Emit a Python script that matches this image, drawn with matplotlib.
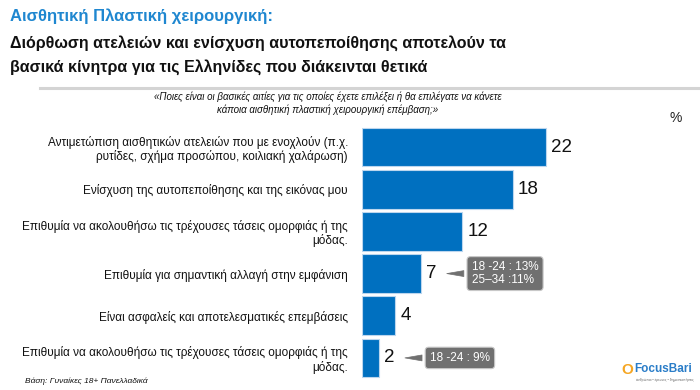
"""
Aesthetic plastic surgery - reasons bar chart (FocusBari style slide)
"""

import matplotlib
matplotlib.use('Agg')
import matplotlib.pyplot as plt
from matplotlib.lines import Line2D

plt.rcParams['font.family'] = ['Liberation Sans', 'DejaVu Sans']

# data
categories = [
    'Αντιμετώπιση αισθητικών ατελειών που με ενοχλούν (π.χ.\nρυτίδες, σχήμα προσώπου, κοιλιακή χαλάρωση)',
    'Ενίσχυση της αυτοπεποίθησης και της εικόνας μου',
    'Επιθυμία να ακολουθήσω τις τρέχουσες τάσεις ομορφιάς ή της\nμόδας.',
    'Επιθυμία για σημαντική αλλαγή στην εμφάνιση',
    'Είναι ασφαλείς και αποτελεσματικές επεμβάσεις',
    'Επιθυμία να ακολουθήσω τις τρέχουσες τάσεις ομορφιάς ή της\nμόδας.',
]
values = [22, 18, 12, 7, 4, 2]
callouts = {3: '18 -24 : 13%\n25–34 :11%', 5: '18 -24 : 9%'}

title_1 = 'Αισθητική Πλαστική χειρουργική:'
title_2 = 'Διόρθωση ατελειών και ενίσχυση αυτοπεποίθησης αποτελούν τα\nβασικά κίνητρα για τις Ελληνίδες που διάκεινται θετικά'
question = ('«Ποιες είναι οι βασικές αιτίες για τις οποίες έχετε επιλέξει ή θα επιλέγατε να κάνετε\n'
            'κάποια αισθητική πλαστική χειρουργική επέμβαση;»')
base_note = 'Βάση: Γυναίκες 18+ Πανελλαδικά'

BLUE = '#0070C0'
TITLE_BLUE = '#1F87D0'

W, H = 700, 390
fig = plt.figure(figsize=(7, 3.9), dpi=100)
fig.patch.set_facecolor('white')

ax = fig.add_axes([362 / W, 1 - 379 / H, 258 / W, 253 / H])
y = list(range(len(values)))
ax.barh(y, values, height=0.92, color=BLUE, edgecolor='#bcd6ee', linewidth=0.8)
ax.set_xlim(0, 30.85)
ax.set_ylim(len(values) - 0.5, -0.5)
ax.set_yticks(y)
ax.set_yticklabels(categories, fontsize=8.5, color='#111111', linespacing=1.15)
ax.tick_params(axis='y', length=0, pad=10)
ax.set_xticks([])
for s in ax.spines.values():
    s.set_visible(False)

for i, v in enumerate(values):
    ax.text(v + 0.6, i, str(v), va='center', ha='left', fontsize=13.5, color='#111111')

for i, txt in callouts.items():
    ax.annotate(txt, xy=(values[i] + 2.8, i), xytext=(20, 0), textcoords='offset points',
                ha='left', va='center', fontsize=8.5, color='white', linespacing=1.05,
                bbox=dict(boxstyle='round,pad=0.4,rounding_size=0.3', fc='#707070', ec='#c8c8c8', lw=0.8),
                arrowprops=dict(arrowstyle='wedge,tail_width=0.5,shrink_factor=0.5',
                                fc='#707070', ec='#707070', lw=0.5))

# titles
fig.text(10 / W, 1 - 16 / H, title_1, fontsize=12, fontweight='bold', color=TITLE_BLUE,
         va='center', ha='left')
fig.text(10 / W, 1 - 55 / H, title_2, fontsize=11.5, fontweight='bold', color='#111111',
         va='center', ha='left', linespacing=1.65)

# separator line under title
fig.add_artist(Line2D([40 / W, 1.0], [1 - 88 / H, 1 - 88 / H], color='#d4d4d4', lw=2.2))

fig.text(328 / W, 1 - 103 / H, question, fontsize=7, style='italic', color='#111111',
         ha='center', va='center', linespacing=1.35)
fig.text(676 / W, 1 - 118 / H, '%', fontsize=10, color='#222222', ha='center', va='center')

fig.text(25 / W, 1 - 381 / H, base_note, fontsize=6, style='italic', color='#111111',
         ha='left', va='center')

# logo
fig.text(627 / W, 1 - 370 / H, 'O', fontsize=11, fontweight='bold', color='#F5A623',
         ha='center', va='center')
fig.text(634 / W, 1 - 369 / H, 'FocusBari', fontsize=8.5, fontweight='bold', color='#2A7DC8',
         ha='left', va='center')
fig.text(636 / W, 1 - 380 / H, 'άνθρωποι • έρευνες • δημοσκοπήσεις', fontsize=2.5, color='#666666',
         ha='left', va='center')

fig.savefig('out.png', dpi=100, facecolor='white')
